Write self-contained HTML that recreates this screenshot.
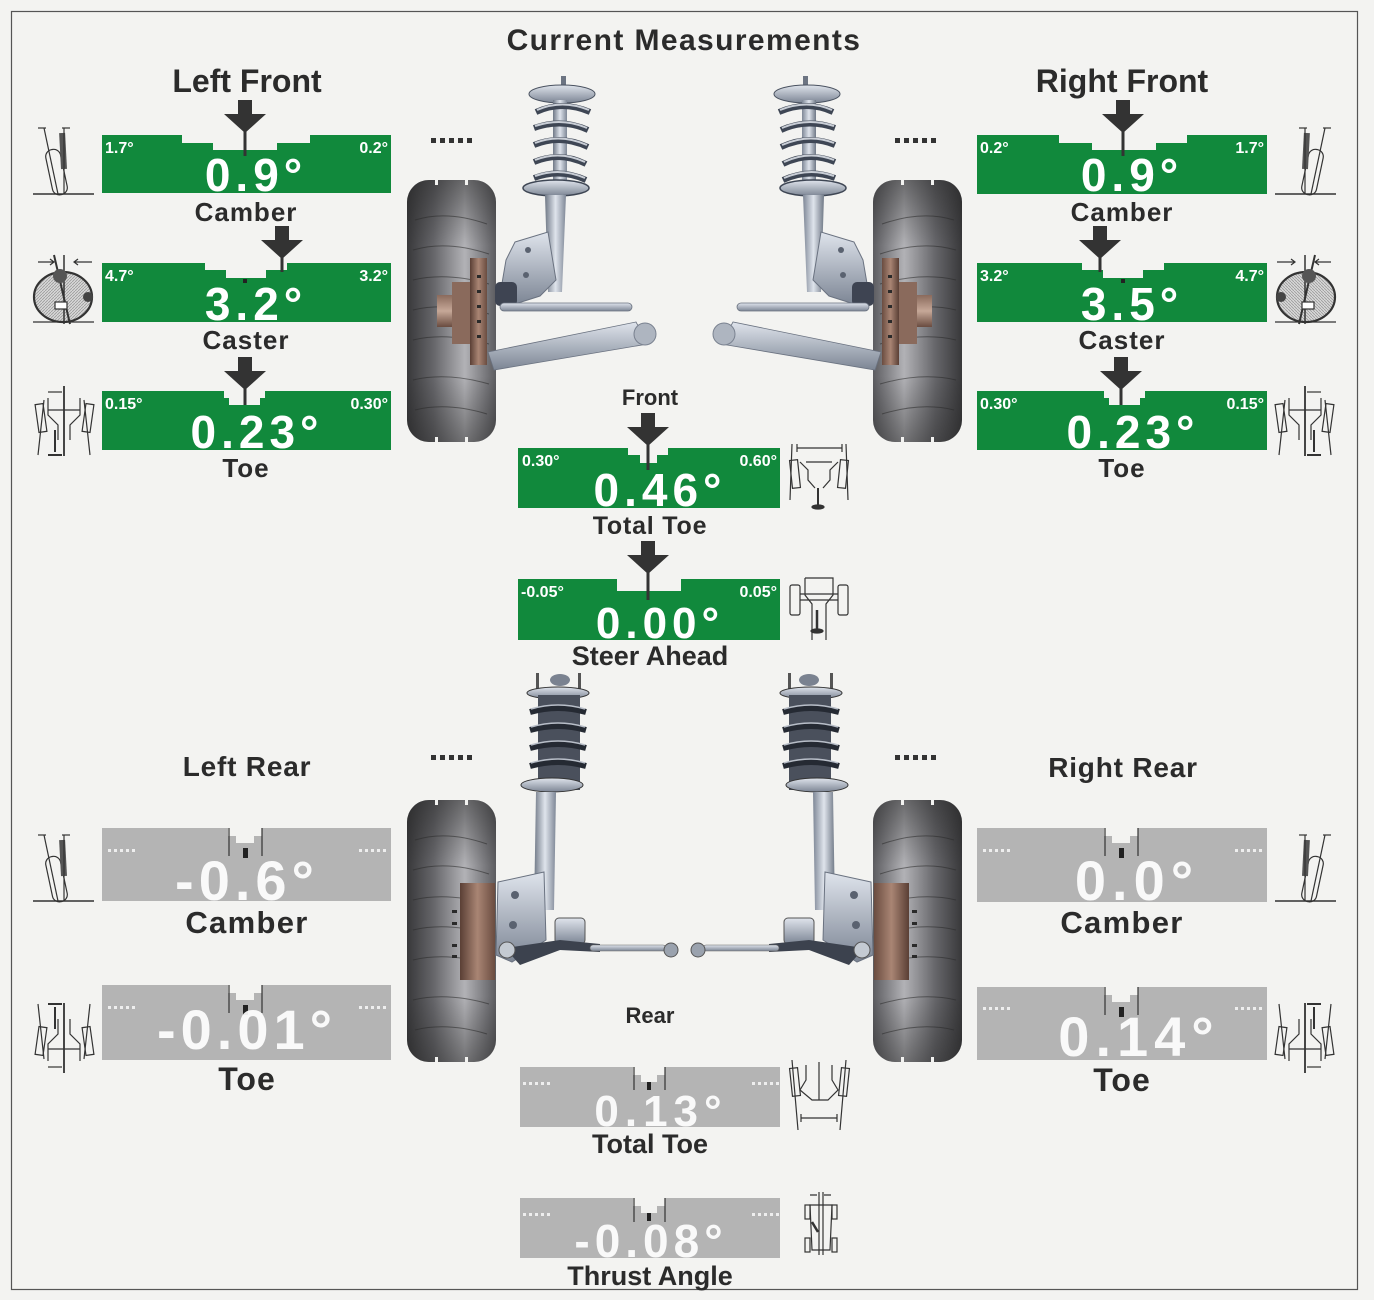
<!DOCTYPE html>
<html><head><meta charset="utf-8"><style>
html,body{margin:0;padding:0;background:#f3f3f1;}
svg{display:block;}
text{font-family:"Liberation Sans",Arial,sans-serif;font-weight:bold;}
.t{fill:#2b2b2b;}
.r{fill:#fff;font-size:16px;}
.v{fill:#fff;}
.g{fill:#11893c;}
.gr{fill:#b4b4b4;}
.ic{fill:none;stroke:#333;stroke-width:1.2;}
</style></head><body>
<svg width="1374" height="1300" viewBox="0 0 1374 1300" xmlns="http://www.w3.org/2000/svg">
<defs>
<linearGradient id="tire" x1="0" x2="1" y1="0" y2="0">
<stop offset="0" stop-color="#38383a"/><stop offset="0.3" stop-color="#66666a"/><stop offset="0.65" stop-color="#b2b2b6"/><stop offset="1" stop-color="#5c5c60"/></linearGradient>
<linearGradient id="tireV" x1="0" x2="0" y1="0" y2="1">
<stop offset="0" stop-color="#222" stop-opacity="0.5"/><stop offset="0.25" stop-color="#222" stop-opacity="0"/><stop offset="0.75" stop-color="#222" stop-opacity="0"/><stop offset="1" stop-color="#222" stop-opacity="0.45"/></linearGradient>
<linearGradient id="steel" x1="0" x2="1" y1="0" y2="0">
<stop offset="0" stop-color="#6f7886"/><stop offset="0.5" stop-color="#dfe4ec"/><stop offset="1" stop-color="#7e8796"/></linearGradient>
<linearGradient id="steelV" x1="0" x2="0" y1="0" y2="1">
<stop offset="0" stop-color="#dfe4ec"/><stop offset="1" stop-color="#7c8594"/></linearGradient>
<linearGradient id="brown" x1="0" x2="1" y1="0" y2="0">
<stop offset="0" stop-color="#5a3f35"/><stop offset="0.5" stop-color="#a98574"/><stop offset="1" stop-color="#6a4c40"/></linearGradient>
<linearGradient id="brownV" x1="0" x2="0" y1="0" y2="1">
<stop offset="0" stop-color="#8a6a5c"/><stop offset="0.5" stop-color="#c6a898"/><stop offset="1" stop-color="#6a4c40"/></linearGradient>
<pattern id="hatch" width="3" height="3" patternUnits="userSpaceOnUse">
<rect width="3" height="3" fill="#d8d8d8"/><path d="M0,3 L3,0" stroke="#9a9a9a" stroke-width="0.8"/></pattern>

<g id="tireG">
<rect x="0" y="0" width="89" height="262" rx="22" fill="url(#tire)"/>
<rect x="0" y="0" width="89" height="262" rx="22" fill="url(#tireV)"/>
<path d="M8,40 Q40,30 80,44 M6,70 Q40,60 82,74 M6,100 Q40,92 82,104 M6,130 Q40,122 82,134 M6,160 Q40,152 82,164 M6,200 Q40,192 82,204 M8,230 Q40,222 80,234" stroke="#2a2a2a" stroke-width="1" fill="none" opacity="0.55"/>
<rect x="28" y="0" width="3" height="5" fill="#f3f3f1"/><rect x="58" y="0" width="3" height="5" fill="#f3f3f1"/>
<rect x="28" y="257" width="3" height="5" fill="#f3f3f1"/><rect x="58" y="257" width="3" height="5" fill="#f3f3f1"/>
</g>

<g id="frontSusp">
<use href="#tireG" x="407" y="180"/>
<rect x="561" y="76" width="5" height="14" fill="#6c7482"/>
<ellipse cx="562" cy="94" rx="33" ry="9" fill="url(#steelV)" stroke="#4a5260" stroke-width="1"/>
<rect x="553" y="100" width="14" height="92" fill="url(#steel)"/>
<g fill="none" stroke="#3e4654" stroke-width="6">
<path d="M536,112 Q562,100 590,112"/><path d="M534,128 Q562,118 588,130"/><path d="M534,145 Q560,134 588,147"/><path d="M534,162 Q560,151 586,164"/><path d="M534,178 Q560,168 586,180"/>
</g>
<g fill="none" stroke="#c9ced6" stroke-width="2">
<path d="M537,110 Q562,99 589,110"/><path d="M535,126 Q562,117 587,128"/><path d="M535,143 Q560,133 587,145"/><path d="M535,160 Q560,150 585,162"/><path d="M535,176 Q560,167 585,178"/>
</g>
<ellipse cx="556" cy="188" rx="33" ry="8" fill="url(#steelV)" stroke="#3e4654" stroke-width="1.5"/>
<path d="M545,195 L566,195 L562,292 L548,292 Z" fill="url(#steel)"/>
<path d="M515,242 L548,232 L556,280 L540,296 L512,305 L500,295 L506,260 Z" fill="url(#steelV)" stroke="#6a7280" stroke-width="1"/>
<circle cx="528" cy="250" r="3" fill="#5a6270"/><circle cx="526" cy="275" r="3" fill="#5a6270"/>
<rect x="495" y="282" width="22" height="24" rx="5" fill="#3e4452"/>
<rect x="500" y="303" width="132" height="8" rx="4" fill="url(#steelV)" stroke="#6a7280" stroke-width="0.8"/>
<path d="M488,352 L636,322 L648,344 L494,370 Z" fill="url(#steelV)" stroke="#6a7280" stroke-width="0.8"/>
<circle cx="645" cy="334" r="11" fill="#aeb5c0" stroke="#7a8290"/>
<rect x="437" y="295" width="35" height="32" fill="url(#brownV)"/>
<rect x="452" y="282" width="20" height="62" fill="#8a6a5c"/>
<rect x="470" y="258" width="17" height="107" fill="url(#brown)"/>
<g fill="#2a2a2a"><rect x="477" y="275" width="4" height="3"/><rect x="477" y="290" width="4" height="3"/><rect x="477" y="305" width="4" height="3"/><rect x="477" y="320" width="4" height="3"/><rect x="477" y="335" width="4" height="3"/></g>
</g>

<g id="rearSusp">
<use href="#tireG" x="407" y="800"/>
<rect x="536" y="673" width="3" height="18" fill="#555"/><rect x="578" y="673" width="3" height="18" fill="#555"/>
<ellipse cx="560" cy="680" rx="10" ry="6" fill="#7a8290"/>
<ellipse cx="558" cy="693" rx="31" ry="6" fill="url(#steelV)" stroke="#333" stroke-width="1"/>
<rect x="538" y="695" width="42" height="95" fill="#4a505c"/>
<g fill="none" stroke="#252a33" stroke-width="6">
<path d="M530,712 Q558,704 586,712"/><path d="M530,730 Q558,722 586,730"/><path d="M530,748 Q558,740 586,748"/><path d="M530,766 Q558,758 586,766"/>
</g>
<g fill="none" stroke="#b8bec8" stroke-width="1.5">
<path d="M531,709 Q558,701 585,709"/><path d="M531,727 Q558,719 585,727"/><path d="M531,745 Q558,737 585,745"/><path d="M531,763 Q558,755 585,763"/>
</g>
<ellipse cx="552" cy="785" rx="31" ry="7" fill="url(#steelV)" stroke="#333" stroke-width="1"/>
<path d="M536,792 L556,792 L554,910 L534,910 Z" fill="url(#steel)"/>
<path d="M498,882 L544,872 L546,940 L512,962 L496,955 Z" fill="url(#steelV)" stroke="#6a7280" stroke-width="1"/>
<circle cx="515" cy="895" r="4" fill="#5a6270"/><circle cx="513" cy="925" r="4" fill="#5a6270"/>
<rect x="555" y="918" width="30" height="26" rx="4" fill="url(#steelV)" stroke="#555"/>
<path d="M505,948 L560,940 L600,944 L600,952 L560,950 L520,965 Z" fill="#3c424e"/>
<circle cx="507" cy="950" r="8" fill="#c4cad2" stroke="#555"/>
<rect x="590" y="945" width="76" height="6" rx="3" fill="url(#steelV)" stroke="#666" stroke-width="0.6"/>
<circle cx="671" cy="950" r="7" fill="#9aa2ae" stroke="#555"/>
<rect x="460" y="883" width="35" height="97" fill="url(#brown)"/>
<g fill="#2a2a2a"><rect x="452" y="910" width="5" height="3"/><rect x="452" y="922" width="5" height="3"/><rect x="452" y="944" width="5" height="3"/><rect x="452" y="955" width="5" height="3"/></g>
</g>

<g id="icCamber" class="ic">
<line x1="33" y1="194" x2="94" y2="194" stroke-width="1.5"/>
<rect x="49" y="149" width="15" height="46" rx="7" transform="rotate(-12 57 172)"/>
<rect x="60" y="133" width="6" height="36" fill="#555" stroke="none" transform="rotate(-3 63 150)"/>
<line x1="44" y1="128" x2="58" y2="194"/>
<line x1="64" y1="128" x2="64" y2="194"/>
<line x1="38" y1="128" x2="46" y2="128"/><line x1="62" y1="128" x2="70" y2="128"/>
</g>
<g id="icCaster" class="ic">
<ellipse cx="63" cy="297" rx="29" ry="25" fill="url(#hatch)" stroke-width="2.2"/>
<line x1="33" y1="322" x2="94" y2="322" stroke-width="1.2"/>
<line x1="54" y1="255" x2="70" y2="324" stroke-width="2"/>
<line x1="64" y1="255" x2="64" y2="324" stroke-width="1.5"/>
<circle cx="60" cy="276" r="7" fill="#555" stroke="none"/>
<circle cx="88" cy="297" r="5" fill="#444" stroke="none"/>
<rect x="55" y="302" width="12" height="7" fill="#fff"/>
<path d="M38,262 L54,262 M50,259 L54,262 L50,265 M92,262 L74,262 M78,259 L74,262 L78,265"/>
</g>
<g id="icToe" class="ic">
<line x1="64" y1="386" x2="64" y2="456" stroke-width="1.8"/>
<rect x="37" y="404" width="8" height="28" transform="rotate(-8 41 418)"/>
<rect x="84" y="404" width="8" height="28" transform="rotate(8 88 418)"/>
<path d="M44,400 L38,455 M84,400 L90,455"/>
<path d="M48,398 L48,415 L58,425 L58,440 M80,398 L80,415 L70,425 L70,440 M48,410 L80,410"/>
<path d="M48,392 L62,392"/>
<path d="M55,430 L55,452 M48,455 L62,455" stroke-width="2"/>
</g>
<g id="dots" fill="#333"><rect x="431" y="138" width="5" height="5"/><rect x="440" y="138" width="5" height="5"/><rect x="449" y="138" width="5" height="5"/><rect x="458" y="138" width="5" height="5"/><rect x="467" y="138" width="5" height="5"/></g>
<g id="wdots" fill="#eee"><rect x="0" y="0" width="3" height="3"/><rect x="6" y="0" width="3" height="3"/><rect x="12" y="0" width="3" height="3"/><rect x="18" y="0" width="3" height="3"/><rect x="24" y="0" width="3" height="3"/></g>
<g id="arrow" fill="#333">
<rect x="-7" y="0" width="14" height="15"/>
<polygon points="-21,14 21,14 0,33"/>
</g>
</defs>

<rect x="11.5" y="11.5" width="1346" height="1278" fill="none" stroke="#555" stroke-width="1.2"/>

<text x="684" y="50" text-anchor="middle" class="t" font-size="30" letter-spacing="1.4">Current Measurements</text>
<text x="247" y="92" text-anchor="middle" class="t" font-size="32">Left Front</text>
<text x="1122" y="92" text-anchor="middle" class="t" font-size="32">Right Front</text>
<text x="247" y="776" text-anchor="middle" class="t" font-size="28" letter-spacing="0.8">Left Rear</text>
<text x="1123" y="777" text-anchor="middle" class="t" font-size="28" letter-spacing="0.8">Right Rear</text>

<use href="#frontSusp"/>
<use href="#frontSusp" transform="translate(1369,0) scale(-1,1)"/>
<use href="#rearSusp"/>
<use href="#rearSusp" transform="translate(1369,0) scale(-1,1)"/>
<use href="#dots"/>
<use href="#dots" x="464"/>
<use href="#dots" y="617"/>
<use href="#dots" x="464" y="617"/>

<!-- LEFT FRONT -->
<path class="g" d="M102,135 H182 V143 H213 V150 H277 V143 H310 V135 H391 V193 H102 Z"/>
<use href="#arrow" transform="translate(245,100)"/>
<rect x="243.5" y="128" width="3" height="28" fill="#333"/>
<text x="105" y="153" class="r">1.7°</text><text x="388" y="153" class="r" text-anchor="end">0.2°</text>
<text x="256" y="191" class="v" font-size="46" text-anchor="middle" letter-spacing="5">0.9°</text>
<text x="246" y="221" class="t" font-size="26" text-anchor="middle" letter-spacing="1">Camber</text>

<path class="g" d="M102,263 H205 V270 H226 V278 H266 V270 H287 V263 H391 V322 H102 Z"/>
<use href="#arrow" transform="translate(282,226)"/>
<rect x="280.5" y="254" width="3" height="18" fill="#333"/>
<rect x="243" y="279" width="4" height="4" fill="#222"/>
<text x="105" y="281" class="r">4.7°</text><text x="388" y="281" class="r" text-anchor="end">3.2°</text>
<text x="256" y="320" class="v" font-size="46" text-anchor="middle" letter-spacing="5">3.2°</text>
<text x="246" y="349" class="t" font-size="26" text-anchor="middle" letter-spacing="1">Caster</text>

<path class="g" d="M102,391 H224 V398 H229 V405 H260 V398 H265 V391 H391 V450 H102 Z"/>
<use href="#arrow" transform="translate(245,357)"/>
<rect x="243.5" y="385" width="3" height="20" fill="#333"/>
<text x="105" y="409" class="r">0.15°</text><text x="388" y="409" class="r" text-anchor="end">0.30°</text>
<text x="257" y="448" class="v" font-size="46" text-anchor="middle" letter-spacing="5">0.23°</text>
<text x="246" y="477" class="t" font-size="26" text-anchor="middle" letter-spacing="1">Toe</text>

<!-- RIGHT FRONT -->
<path class="g" d="M977,135 H1059 V143 H1092 V150 H1156 V143 H1187 V135 H1267 V194 H977 Z"/>
<use href="#arrow" transform="translate(1123,100)"/>
<rect x="1121.5" y="128" width="3" height="28" fill="#333"/>
<text x="980" y="153" class="r">0.2°</text><text x="1264" y="153" class="r" text-anchor="end">1.7°</text>
<text x="1132" y="191" class="v" font-size="46" text-anchor="middle" letter-spacing="5">0.9°</text>
<text x="1122" y="221" class="t" font-size="26" text-anchor="middle" letter-spacing="1">Camber</text>

<path class="g" d="M977,263 H1082 V270 H1103 V278 H1143 V270 H1164 V263 H1267 V322 H977 Z"/>
<use href="#arrow" transform="translate(1100,226)"/>
<rect x="1098.5" y="254" width="3" height="18" fill="#333"/>
<rect x="1121" y="279" width="4" height="4" fill="#222"/>
<text x="980" y="281" class="r">3.2°</text><text x="1264" y="281" class="r" text-anchor="end">4.7°</text>
<text x="1132" y="320" class="v" font-size="46" text-anchor="middle" letter-spacing="5">3.5°</text>
<text x="1122" y="349" class="t" font-size="26" text-anchor="middle" letter-spacing="1">Caster</text>

<path class="g" d="M977,391 H1104 V398 H1109 V405 H1140 V398 H1145 V391 H1267 V450 H977 Z"/>
<use href="#arrow" transform="translate(1121,357)"/>
<rect x="1119.5" y="385" width="3" height="20" fill="#333"/>
<text x="980" y="409" class="r">0.30°</text><text x="1264" y="409" class="r" text-anchor="end">0.15°</text>
<text x="1133" y="448" class="v" font-size="46" text-anchor="middle" letter-spacing="5">0.23°</text>
<text x="1122" y="477" class="t" font-size="26" text-anchor="middle" letter-spacing="1">Toe</text>

<!-- CENTER FRONT -->
<text x="650" y="405" class="t" font-size="22" text-anchor="middle">Front</text>
<path class="g" d="M518,448 H628 V455 H640 V463 H657 V455 H668 V448 H780 V508 H518 Z"/>
<use href="#arrow" transform="translate(648,413)"/>
<rect x="646.5" y="441" width="3" height="29" fill="#333"/>
<text x="522" y="466" class="r">0.30°</text><text x="777" y="466" class="r" text-anchor="end">0.60°</text>
<text x="660" y="506" class="v" font-size="46" text-anchor="middle" letter-spacing="5">0.46°</text>
<text x="650" y="534" class="t" font-size="25" text-anchor="middle" letter-spacing="0.8">Total Toe</text>

<path class="g" d="M518,579 H617 V591 H681 V579 H780 V640 H518 Z"/>
<use href="#arrow" transform="translate(648,541)"/>
<rect x="646.5" y="569" width="3" height="31" fill="#333"/>
<text x="521" y="597" class="r">-0.05°</text><text x="777" y="597" class="r" text-anchor="end">0.05°</text>
<text x="660" y="638" class="v" font-size="44" text-anchor="middle" letter-spacing="5">0.00°</text>
<text x="650" y="665" class="t" font-size="27" text-anchor="middle">Steer Ahead</text>

<!-- REAR gray gauges -->
<path class="gr" d="M102,828 H228 V836 H236 V843 H254 V836 H262 V828 H391 V901 H102 Z"/>
<path d="M229,828 V856 M262,828 V856" stroke="#333" stroke-width="1.2"/>
<rect x="243" y="848" width="5" height="10" fill="#222"/>
<use href="#wdots" x="108" y="849"/><use href="#wdots" x="359" y="849"/>
<text x="247" y="900" class="v" font-size="56" text-anchor="middle" letter-spacing="5" opacity="0.92">-0.6°</text>
<text x="247" y="933" class="t" font-size="31" text-anchor="middle" letter-spacing="1.3">Camber</text>

<path class="gr" d="M102,985 H228 V993 H236 V1000 H254 V993 H262 V985 H391 V1060 H102 Z"/>
<path d="M229,985 V1013 M262,985 V1013" stroke="#333" stroke-width="1.2"/>
<rect x="243" y="1005" width="5" height="10" fill="#222"/>
<use href="#wdots" x="108" y="1006"/><use href="#wdots" x="359" y="1006"/>
<text x="247" y="1049" class="v" font-size="56" text-anchor="middle" letter-spacing="5" opacity="0.92">-0.01°</text>
<text x="247" y="1090" class="t" font-size="32" text-anchor="middle" letter-spacing="1">Toe</text>

<path class="gr" d="M977,828 H1104 V836 H1112 V843 H1130 V836 H1138 V828 H1267 V902 H977 Z"/>
<path d="M1105,828 V856 M1138,828 V856" stroke="#333" stroke-width="1.2"/>
<rect x="1119" y="848" width="5" height="10" fill="#222"/>
<use href="#wdots" x="983" y="849"/><use href="#wdots" x="1235" y="849"/>
<text x="1137" y="900" class="v" font-size="56" text-anchor="middle" letter-spacing="6" opacity="0.92">0.0°</text>
<text x="1122" y="933" class="t" font-size="31" text-anchor="middle" letter-spacing="1.3">Camber</text>

<path class="gr" d="M977,987 H1104 V995 H1112 V1002 H1130 V995 H1138 V987 H1267 V1060 H977 Z"/>
<path d="M1105,987 V1015 M1138,987 V1015" stroke="#333" stroke-width="1.2"/>
<rect x="1119" y="1007" width="5" height="10" fill="#222"/>
<use href="#wdots" x="983" y="1007"/><use href="#wdots" x="1235" y="1007"/>
<text x="1139" y="1056" class="v" font-size="56" text-anchor="middle" letter-spacing="6" opacity="0.92">0.14°</text>
<text x="1122" y="1091" class="t" font-size="32" text-anchor="middle" letter-spacing="1">Toe</text>

<text x="650" y="1023" class="t" font-size="22" text-anchor="middle">Rear</text>

<path class="gr" d="M520,1067 H633 V1075 H641 V1082 H657 V1075 H665 V1067 H780 V1127 H520 Z"/>
<path d="M634,1067 V1090 M665,1067 V1090" stroke="#333" stroke-width="1.2"/>
<rect x="647" y="1082" width="4" height="8" fill="#222"/>
<use href="#wdots" x="523" y="1082"/><use href="#wdots" x="752" y="1082"/>
<text x="661" y="1126" class="v" font-size="44" text-anchor="middle" letter-spacing="6" opacity="0.92">0.13°</text>
<text x="650" y="1153" class="t" font-size="27" text-anchor="middle">Total Toe</text>

<path class="gr" d="M520,1198 H633 V1206 H641 V1213 H657 V1206 H665 V1198 H780 V1258 H520 Z"/>
<path d="M634,1198 V1222 M665,1198 V1222" stroke="#333" stroke-width="1.2"/>
<rect x="647" y="1213" width="4" height="8" fill="#222"/>
<use href="#wdots" x="523" y="1213"/><use href="#wdots" x="752" y="1213"/>
<text x="651" y="1257" class="v" font-size="46" text-anchor="middle" letter-spacing="5" opacity="0.92">-0.08°</text>
<text x="650" y="1285" class="t" font-size="27" text-anchor="middle">Thrust Angle</text>

<use href="#icCamber"/>
<use href="#icCaster"/>
<use href="#icToe"/>
<use href="#icCamber" transform="translate(1369,0) scale(-1,1)"/>
<use href="#icCaster" transform="translate(1369,0) scale(-1,1)"/>
<use href="#icToe" transform="translate(1369,0) scale(-1,1)"/>
<use href="#icCamber" transform="translate(0,707)"/>
<use href="#icCamber" transform="translate(1369,707) scale(-1,1)"/>
<use href="#icToe" transform="translate(0,1459) scale(1,-1)"/>
<use href="#icToe" transform="translate(1369,1459) scale(-1,-1)"/>

<g class="ic">
<path d="M797,448 L842,448 M797,444 L797,452 M842,444 L842,452"/>
<path d="M792,444 L790,500 M846,444 L848,500"/>
<rect x="791" y="460" width="8" height="28" transform="rotate(-6 795 474)"/>
<rect x="839" y="460" width="8" height="28" transform="rotate(6 843 474)"/>
<path d="M800,462 L808,470 L808,480 L815,488 M838,462 L830,470 L830,480 L823,488 M806,462 L832,462"/>
<path d="M818,488 L818,505" stroke-width="2"/><ellipse cx="818" cy="507" rx="6" ry="2" fill="#333"/>
</g>
<g class="ic">
<rect x="790" y="585" width="10" height="30" rx="2"/>
<rect x="838" y="585" width="10" height="30" rx="2"/>
<path d="M800,600 L838,600 M805,578 L833,578 L833,595 L826,604 L826,640 M805,578 L805,595 L812,604 L812,640 M800,594 L838,594"/>
<path d="M817,610 L817,630" stroke-width="2.5"/><ellipse cx="817" cy="631" rx="6" ry="2" fill="#333"/>
</g>
<g class="ic">
<rect x="791" y="1068" width="8" height="28" transform="rotate(-6 795 1082)"/>
<rect x="840" y="1068" width="8" height="28" transform="rotate(6 844 1082)"/>
<path d="M792,1060 L798,1130 M846,1060 L840,1130 M819,1062 L819,1100 M806,1065 L806,1080 L800,1090 L812,1100 L828,1100 L838,1090 L832,1080 L832,1065"/>
<path d="M801,1118 L837,1118 M801,1114 L801,1122 M837,1114 L837,1122"/>
</g>
<g class="ic" stroke-width="1">
<path d="M810,1195 L817,1195 M824,1195 L831,1195 M819,1192 L819,1255 M823,1192 L823,1255"/>
<rect x="805" y="1205" width="5" height="14"/><rect x="832" y="1205" width="5" height="14"/>
<rect x="805" y="1238" width="5" height="14"/><rect x="832" y="1238" width="5" height="14"/>
<path d="M810,1205 L832,1205 L830,1250 L812,1250 Z"/>
<path d="M812,1222 L818,1232" stroke-width="2.5"/>
</g>
</svg>
</body></html>
